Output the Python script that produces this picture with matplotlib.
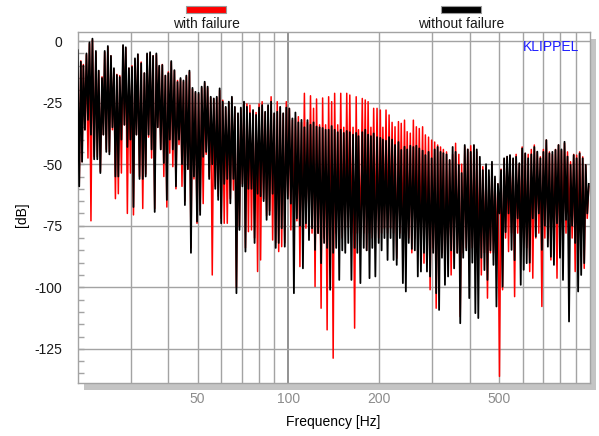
import numpy as np
import matplotlib
matplotlib.use("Agg")
import matplotlib.pyplot as plt
from matplotlib.patches import Rectangle
from matplotlib.ticker import FixedLocator, FixedFormatter, NullLocator, MultipleLocator

plt.rcParams['font.family'] = ['Liberation Sans', 'DejaVu Sans']

# analyser frequency points (Hz), 1/30 octave spacing
freq_hz = [
    20.0, 20.5, 20.9, 21.4, 21.9, 22.4, 23.0, 23.5, 24.1, 24.6,
    25.2, 25.8, 26.4, 27.0, 27.6, 28.3, 28.9, 29.6, 30.3, 31.0,
    31.7, 32.5, 33.3, 34.0, 34.8, 35.6, 36.5, 37.3, 38.2, 39.1,
    40.0, 40.9, 41.9, 42.9, 43.9, 44.9, 45.9, 47.0, 48.1, 49.2,
    50.4, 51.6, 52.8, 54.0, 55.3, 56.6, 57.9, 59.2, 60.6, 62.0,
    63.5, 65.0, 66.5, 68.1, 69.6, 71.3, 72.9, 74.6, 76.4, 78.2,
    80.0, 81.9, 83.8, 85.7, 87.7, 89.8, 91.9, 94.0, 96.2, 98.5,
    100.8, 103.2, 105.6, 108.0, 110.6, 113.1, 115.8, 118.5, 121.3, 124.1,
    127.0, 130.0, 133.0, 136.1, 139.3, 142.5, 145.9, 149.3, 152.8, 156.3,
    160, 164, 168, 171, 176, 180, 184, 188, 192, 197,
    202, 206, 211, 216, 221, 226, 232, 237, 243, 248,
    254, 260, 266, 272, 279, 285, 292, 299, 306, 313,
    320, 327, 335, 343, 351, 359, 368, 376, 385, 394,
    403, 413, 422, 432, 442, 453, 463, 474, 485, 496,
    508, 520, 532, 544, 557, 570, 584, 597, 611, 625,
    640, 655, 670, 686, 702, 718, 735, 752, 770, 788,
    806, 825, 844, 864, 885, 905, 926, 948, 970, 993,
]

# "without failure" (black): local maxima at freq_hz, minima between points
black_peak_db = [
    -3.7, -8.4, -10, -5, -0.5, 1.0, -4, -12, -15, -4,
    -2, -6, -11, -13.8, -14.6, -1.6, -2.5, -11, -10.5, -7,
    -5.3, -9, -13, -5, -4.5, -6, -5, -10, -9.7, -14,
    -13, -8.1, -11.8, -16.6, -15, -16, -14, -12, -19, -20.6,
    -21, -18.5, -16.5, -18.5, -22.6, -23.3, -22.6, -19.2, -24.6, -26.7,
    -24.6, -22.6, -26.7, -29.3, -27, -24.6, -26.7, -29.3, -28, -30,
    -27, -26, -28.7, -26, -24.6, -29.3, -28.7, -26.7, -29.3, -27,
    -27.4, -31.4, -29, -33, -32, -35, -32.1, -34, -33, -34.7,
    -35, -35.3, -36, -36, -34.5, -36, -37, -36, -37.3, -36.5,
    -37, -38, -37.3, -38.6, -37, -36, -38, -38.6, -37.5, -39,
    -39.3, -40, -40.5, -39, -40, -42.2, -41, -44.2, -42.9, -44,
    -42.5, -43, -42.5, -43.6, -44.5, -46.3, -45, -47.6, -44, -43,
    -45, -45.5, -46, -48.3, -43, -45, -50.3, -53.6, -42.2, -44,
    -45, -42.2, -44, -47, -52.4, -50, -52.4, -49, -55, -58,
    -52.4, -47.6, -46.9, -46.3, -47.6, -47, -49.6, -43.6, -45.6, -47.6,
    -46, -43, -44.9, -47.6, -45, -40.2, -45.6, -45, -44.2, -42.2,
    -44, -40.9, -46.9, -50.3, -46.3, -47.6, -45.6, -47.6, -50.3, -58,
]
black_dip_db = [
    -59, -49, -36, -32, -38, -48, -48, -53.6, -38, -45,
    -46, -35, -55, -55, -40, -34, -43, -40, -67.4, -38,
    -56, -56, -55, -38, -44, -69.4, -35, -44, -49.5, -64.5,
    -40, -44, -59, -40, -50, -66.6, -52, -86, -55, -73.3,
    -70.6, -47, -45, -56, -50, -60, -64.5, -74, -58, -56,
    -65.9, -56, -102.4, -76.7, -59, -85.5, -60, -60, -82, -62,
    -63, -65, -72.6, -70.6, -62, -84, -82, -76, -83.5, -64,
    -66, -102.4, -72, -75, -92.3, -74, -80.8, -76, -84.8, -78,
    -90.2, -82, -84, -101, -86, -84, -97, -85, -86, -82,
    -97, -84, -86, -98.3, -84, -85, -96.3, -84, -95.6, -82,
    -85, -80, -88.9, -80, -88.9, -90.9, -80, -98.3, -101.7, -82,
    -84.4, -85, -95.6, -93.6, -86, -93.6, -95.6, -86, -102.4, -109.2,
    -88, -99, -95.6, -85, -92.3, -86, -114.6, -88, -85, -104.4,
    -90, -110.5, -112.5, -88, -93, -97, -85, -90.9, -107.8, -70,
    -99.7, -77.6, -70, -84.8, -89, -72, -99, -92.9, -90.2, -90,
    -72, -79.4, -70, -84.8, -75, -83.5, -87.6, -90.9, -74, -88,
    -97, -72.6, -113.9, -75, -82, -101.7, -95, -90.2, -70,
]

# "with failure" (red)
red_peak_db = [
    -4, -8, -9.5, -5.5, -1, 0.5, -4.5, -12, -14.5, -4.5,
    -2.5, -6, -11.5, -13.5, -14, -2, -2.8, -11, -10, -7.5,
    -5.5, -8.5, -13, -5.5, -5, -6, -5.5, -10.5, -9.5, -14,
    -12.5, -8.5, -12, -16, -15.5, -16.5, -14.5, -12.5, -19.5, -21,
    -21.5, -19, -17, -19, -23, -23.5, -23, -20, -24, -27,
    -25, -23, -27, -29.5, -27.5, -25, -25.5, -26, -28.5, -29,
    -25.5, -24.6, -29, -26.5, -22.6, -29.5, -24.6, -27, -29.5, -24.6,
    -27.3, -32, -31.4, -30.7, -33, -21.2, -33, -22.2, -27.3, -23.5,
    -34, -23.1, -34, -22.6, -24.6, -21.2, -34, -21.2, -35, -21.2,
    -21.9, -35, -22.6, -36, -23.3, -23.9, -24.6, -35, -27.3, -27.3,
    -28, -35, -28, -30, -33, -34.8, -32.7, -33.4, -32.1, -36.8,
    -37.4, -32.1, -34.8, -35.5, -34.8, -38.1, -39, -40.2, -41, -42.2,
    -43, -44, -45, -48.3, -46, -41.5, -46, -50, -42.9, -44,
    -42.5, -42.5, -45, -50, -51, -51.5, -55, -50, -56, -58,
    -52, -48, -47, -46.5, -48, -46, -50, -43, -45.6, -46,
    -44, -42.2, -45, -47, -44, -40.2, -45, -46, -44, -42.2,
    -44.5, -41.5, -45, -49, -46, -46.3, -45, -47, -50.3, -59,
]
red_dip_db = [
    -59, -49, -36, -47.5, -73, -47, -47, -53, -38, -44,
    -45, -36, -64, -62, -53.6, -34, -70, -53.6, -70.6, -38,
    -55, -68, -54, -39, -47.5, -68, -35, -44, -55, -67.4,
    -45.5, -51, -60, -42, -59, -65, -52, -84, -56, -74,
    -69, -66, -46, -55, -95, -59, -63, -72, -74, -74,
    -64, -60.5, -100, -75, -58, -84, -77.4, -76.7, -80, -93.6,
    -88.9, -64, -71, -69, -80.8, -82, -85.5, -83.5, -82, -63,
    -76.7, -70, -73, -91.6, -75, -76, -72, -78, -99.7, -78,
    -108.5, -80, -117.3, -80, -128.8, -78, -79, -80, -76, -75.6,
    -78, -116.6, -78, -80, -78, -85, -78, -80, -78, -80,
    -78, -76, -78, -76, -78, -88.2, -78, -80, -82, -80,
    -86, -80, -82, -80, -90.2, -82, -101, -84, -108.5, -84,
    -86, -94.3, -84, -95, -84, -86, -111.9, -86, -84, -86,
    -84, -86, -84, -95, -86, -104.4, -86, -86, -84, -136.2,
    -101, -80, -85.5, -78, -103.8, -78, -82, -80, -84, -93.6,
    -96.3, -80, -78, -107.8, -80, -80, -88.9, -80, -96.3, -80,
    -78, -78, -73, -80, -93.6, -80, -80, -92.3, -72,
]

series_labels = ["with failure", "without failure"]
series_colors = ["#ff0000", "#000000"]

x_ticks = [50, 100, 200, 500]
x_tick_labels = ["50", "100", "200", "500"]
y_ticks = [0, -25, -50, -75, -100, -125]
y_tick_labels = ["0", "-25", "-50", "-75", "-100", "-125"]
grid_freqs = [30, 40, 50, 60, 70, 80, 90, 200, 300, 400, 500, 600, 700, 800, 900]


def trace(peaks, dips):
    f = np.asarray(freq_hz, float)
    mid = np.sqrt(f[:-1] * f[1:])
    x = np.empty(len(f) + len(mid))
    y = np.empty_like(x)
    x[0::2] = f
    x[1::2] = mid
    y[0::2] = peaks
    y[1::2] = dips
    return x, y


W, H = 599, 436
fig = plt.figure(figsize=(W / 100, H / 100), dpi=100)
L, R, T, B = 77.6, 589.7, 32.0, 383.3
ax = fig.add_axes([L / W, 1 - B / H, (R - L) / W, (B - T) / H])

# drop shadow of the plot box
fig.add_artist(Rectangle((84 / W, 1 - 390 / H), (596 - 84) / W, (390 - 39) / H,
                         transform=fig.transFigure, facecolor="#c4c4c4",
                         edgecolor="none", zorder=-1))

ax.set_xscale("log")
ax.set_xlim(20, 1000)
ax.set_ylim(-139, 3.7)

for g in grid_freqs:
    ax.axvline(g, color="#a3a3a3", lw=1.0, zorder=1)
ax.axvline(100, color="#7f7f7f", lw=1.2, zorder=1)
for yv in y_ticks:
    ax.axhline(yv, color="#a3a3a3", lw=1.0, zorder=1)

xr, yr = trace(red_peak_db, red_dip_db)
xb, yb = trace(black_peak_db, black_dip_db)
ax.plot(xr, yr, color=series_colors[0], lw=1.1, zorder=2)
ax.plot(xb, yb, color=series_colors[1], lw=1.3, zorder=3)

ax.xaxis.set_major_locator(FixedLocator(x_ticks))
ax.xaxis.set_major_formatter(FixedFormatter(x_tick_labels))
ax.xaxis.set_minor_locator(NullLocator())
ax.tick_params(axis="x", which="both", length=0, labelcolor="#8c8c8c",
               labelsize=10, pad=6)

ax.yaxis.set_major_locator(FixedLocator(y_ticks))
ax.yaxis.set_major_formatter(FixedFormatter(y_tick_labels))
ax.yaxis.set_minor_locator(MultipleLocator(5))
ax.tick_params(axis="y", which="both", direction="in", length=4.2,
               color="#a3a3a3", width=1.0, labelsize=10, pad=11,
               labelcolor="#1a1a1a")

for sp in ax.spines.values():
    sp.set_color("#a3a3a3")
    sp.set_linewidth(1.0)

ax.set_xlabel("Frequency [Hz]", fontsize=10, va="center")
ax.xaxis.set_label_coords(0.4987, -0.110)
ax.set_ylabel("[dB]", fontsize=10, va="center")
ax.yaxis.set_label_coords(-0.1086, 0.479)

ax.text(0.979, 0.9587, "KLIPPEL", transform=ax.transAxes, ha="right",
        va="center", color="#1e1eff", fontsize=10)

# legend bars above the plot
leg_x = [186, 441]
for lx, lab, col in zip(leg_x, series_labels, series_colors):
    fig.add_artist(Rectangle((lx / W, 1 - 12.8 / H), 40 / W, 6.6 / H,
                             transform=fig.transFigure, facecolor=col,
                             edgecolor="#9a9a9a", lw=0.8))
    fig.text((lx + 20) / W, 1 - 23.5 / H, lab, ha="center", va="center",
             fontsize=10, color="#1a1a1a")

fig.savefig("out.png", dpi=100)
